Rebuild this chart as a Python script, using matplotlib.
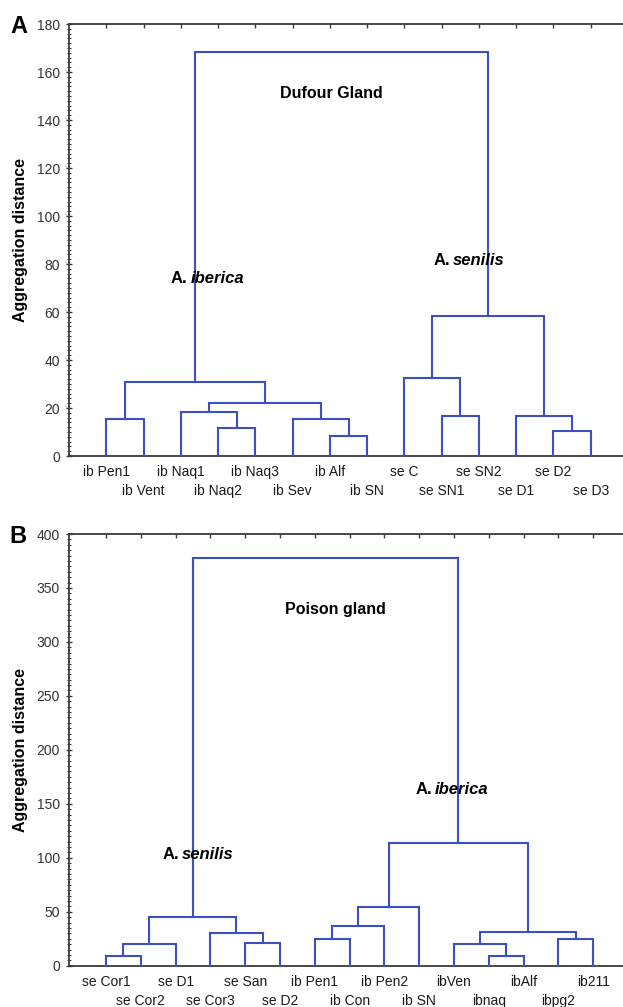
import numpy as np
import matplotlib.pyplot as plt
from matplotlib.ticker import MultipleLocator, AutoMinorLocator

plt.rcParams['font.family'] = ['Liberation Sans', 'DejaVu Sans']

# Dufour gland dendrogram (panel A)
leaves_a = ["ib Pen1", "ib Vent", "ib Naq1", "ib Naq2", "ib Naq3", "ib Sev", "ib Alf",
            "ib SN", "se C", "se SN1", "se SN2", "se D1", "se D2", "se D3"]
# merges: (node a, node b, distance); new node ids follow the leaf ids
merges_a = [(6, 7, 8.3), (12, 13, 10.5), (3, 4, 11.8), (0, 1, 15.4), (5, 14, 15.4),
            (9, 10, 16.7), (11, 15, 16.7), (2, 16, 18.2), (21, 18, 22.0),
            (17, 22, 30.7), (8, 19, 32.6), (24, 20, 58.5), (23, 25, 168.2)]

# Poison gland dendrogram (panel B)
leaves_b = ["se Cor1", "se Cor2", "se D1", "se Cor3", "se San", "se D2", "ib Pen1",
            "ib Con", "ib Pen2", "ib SN", "ibVen", "ibnaq", "ibAlf", "ibpg2", "ib211"]
merges_b = [(0, 1, 9.0), (11, 12, 9.0), (15, 2, 19.8), (10, 16, 19.8), (4, 5, 20.7),
            (6, 7, 24.5), (13, 14, 24.5), (3, 19, 30.0), (18, 21, 30.9), (20, 8, 36.8),
            (17, 22, 44.8), (24, 9, 54.1), (26, 23, 113.4), (25, 27, 377.5)]

LINE = '#3d4fc2'
SPINE = '#3a3a3a'


def draw_dendro(ax, leaves, merges):
    n = len(leaves)
    xpos = {i: i + 1.0 for i in range(n)}
    ypos = {i: 0.0 for i in range(n)}
    for k, (a, b, h) in enumerate(merges):
        ax.plot([xpos[a], xpos[a], xpos[b], xpos[b]], [ypos[a], h, h, ypos[b]],
                color=LINE, lw=1.5, solid_joinstyle='miter', clip_on=False, zorder=3)
        xpos[n + k] = (xpos[a] + xpos[b]) / 2
        ypos[n + k] = h
    for i, lab in enumerate(leaves):
        off = -11.8 if i % 2 == 0 else -25.3
        ax.annotate(lab, xy=(i + 1, 0), xycoords=('data', 'axes fraction'),
                    xytext=(0, off), textcoords='offset points',
                    ha='center', va='center', fontsize=10, color='#1a1a1a')


def style(ax, n, ymax, major, minor_div):
    ax.set_ylim(0, ymax)
    ax.yaxis.set_major_locator(MultipleLocator(major))
    ax.yaxis.set_minor_locator(AutoMinorLocator(minor_div))
    ax.set_xticks(np.arange(1, n + 1))
    ax.set_xticklabels([])
    ax.tick_params(axis='x', which='both', top=True, bottom=False, direction='in',
                   length=3, width=1, color=SPINE)
    ax.tick_params(axis='y', which='major', direction='inout', length=5, width=1,
                   color=SPINE, labelsize=10, labelcolor='#333333', pad=4)
    ax.tick_params(axis='y', which='minor', direction='inout', length=3, width=0.7,
                   color=SPINE)
    for s in ['left', 'top', 'bottom']:
        ax.spines[s].set_color(SPINE)
        ax.spines[s].set_linewidth(1.3)
    ax.spines['right'].set_visible(False)
    ax.set_ylabel('Aggregation distance', fontsize=11.5, fontweight='bold')
    ax.yaxis.set_label_coords(-0.073, 0.5)


def species(ax, x, y, genus, name):
    ax.annotate(genus, xy=(x, y), xytext=(-1, 0), textcoords='offset points',
                ha='right', va='center', fontsize=12, fontweight='bold')
    ax.annotate(name, xy=(x, y), xytext=(1, 0), textcoords='offset points',
                ha='left', va='center', fontsize=12, fontweight='bold', style='italic')


fig = plt.figure(figsize=(6.23, 10.07), dpi=100)
ax1 = fig.add_axes([69 / 623, 1 - 456 / 1007, 559 / 623, 432 / 1007])
ax2 = fig.add_axes([69 / 623, 1 - 965.7 / 1007, 559 / 623, 431.7 / 1007])

draw_dendro(ax1, leaves_a, merges_a)
style(ax1, len(leaves_a), 180, 20, 10)
ax1.set_xlim(0, 15)
ax1.text(7.03, 151.1, 'Dufour Gland', ha='center', va='center', fontsize=11.5,
         fontweight='bold')
species(ax1, 3.22, 73.8, 'A.', 'iberica')
species(ax1, 10.27, 81.3, 'A.', 'senilis')

draw_dendro(ax2, leaves_b, merges_b)
style(ax2, len(leaves_b), 400, 50, 10)
ax2.set_xlim(-0.063, 16.0)
ax2.text(7.58, 329.6, 'Poison gland', ha='center', va='center', fontsize=11.5,
         fontweight='bold')
species(ax2, 3.15, 102.6, 'A.', 'senilis')
species(ax2, 10.4, 162.8, 'A.', 'iberica')

fig.text(19 / 623, 1 - 26.5 / 1007, 'A', fontsize=17, fontweight='bold',
         ha='center', va='center')
fig.text(18 / 623, 1 - 536.5 / 1007, 'B', fontsize=17, fontweight='bold',
         ha='center', va='center')

fig.savefig('out.png', dpi=100)
